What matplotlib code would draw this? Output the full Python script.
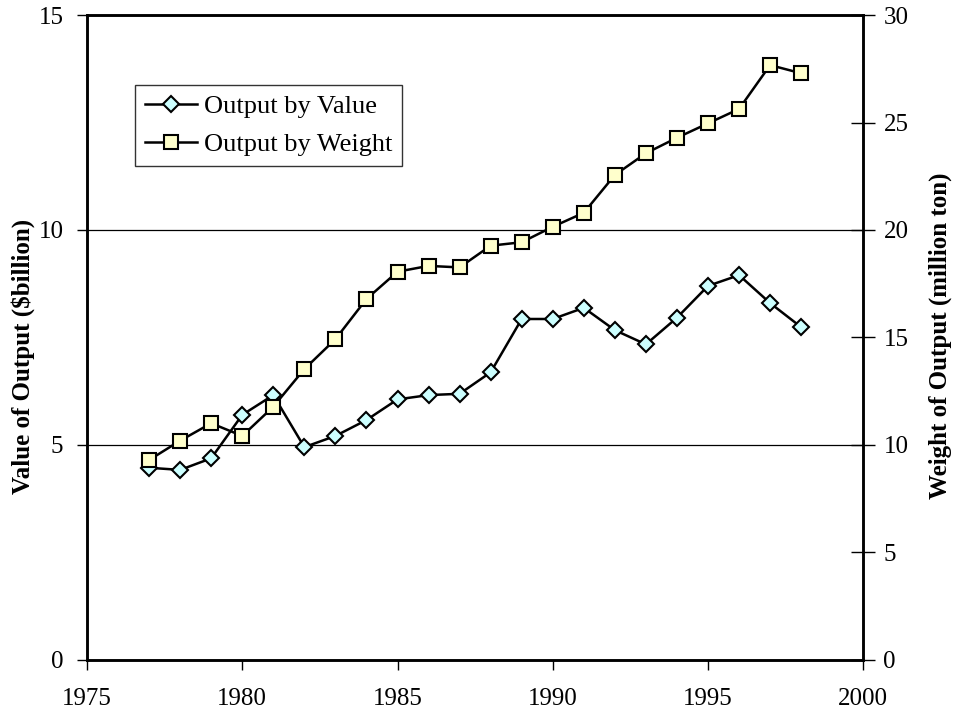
import matplotlib
matplotlib.use("Agg")
import matplotlib.pyplot as plt

# --- data ---
years = list(range(1977, 1999))
value_bn = [4.47, 4.42, 4.69, 5.70, 6.16, 4.95, 5.21, 5.58, 6.06, 6.16, 6.19,
            6.69, 7.93, 7.93, 8.19, 7.67, 7.34, 7.96, 8.70, 8.95, 8.30, 7.74]
weight_mt = [9.30, 10.20, 11.01, 10.42, 11.78, 13.53, 14.92, 16.79, 18.06, 18.33,
             18.26, 19.27, 19.43, 20.15, 20.80, 22.56, 23.57, 24.29, 24.96, 25.63,
             27.67, 27.29]
x_ticks = [1975, 1980, 1985, 1990, 1995, 2000]
left_ticks = [0, 5, 10, 15]
right_ticks = [0, 5, 10, 15, 20, 25, 30]

plt.rcParams["font.family"] = ["Liberation Serif", "DejaVu Serif"]

fig = plt.figure(figsize=(9.56, 7.15), dpi=100)
ax = fig.add_axes([0.091, 0.077, 0.812, 0.902])
ax2 = ax.twinx()

ln1, = ax.plot(years, value_bn, color="black", lw=1.8, marker="D", ms=8,
               mfc="#CCFFFF", mec="black", mew=1.5, label="Output by Value")
ln2, = ax2.plot(years, weight_mt, color="black", lw=1.8, marker="s", ms=10.5,
                mfc="#FFFFCC", mec="black", mew=1.5, label="Output by Weight")

ax.set_xlim(1975, 2000)
ax.set_ylim(0, 15)
ax2.set_ylim(0, 30)
ax.set_xticks(x_ticks)
ax.set_yticks(left_ticks)
ax2.set_yticks(right_ticks)

ax.yaxis.grid(True, color="black", lw=0.9)
ax.set_axisbelow(True)

for a in (ax, ax2):
    for s in a.spines.values():
        s.set_linewidth(1.8)
ax.tick_params(axis="x", direction="out", length=7, width=1, labelsize=18, pad=13)
ax.tick_params(axis="y", direction="out", length=7, width=1, labelsize=18, pad=10)
ax2.tick_params(axis="y", direction="inout", length=17, width=1, labelsize=18, pad=6)

ax.set_ylabel("Value of Output ($billion)", fontsize=18, fontweight="bold")
ax2.set_ylabel("Weight of Output (million ton)", fontsize=18, fontweight="bold")
ax.yaxis.set_label_coords(-0.067, 0.47)
ax2.yaxis.set_label_coords(1.0838, 0.503)

leg = ax2.legend(handles=[ln1, ln2], loc="upper left", bbox_to_anchor=(0.062, 0.891),
                 borderaxespad=0, fontsize=19, frameon=True, fancybox=False,
                 handlelength=2.0, handletextpad=0.25, borderpad=0.36, labelspacing=0.55)
leg.get_frame().set_edgecolor("black")
leg.get_frame().set_linewidth(1.0)

fig.savefig("out.png", dpi=100)
